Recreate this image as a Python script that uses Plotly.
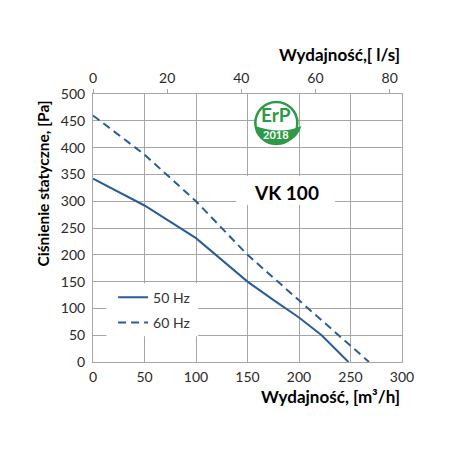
import plotly.graph_objects as go

# Data
flow_50 = [0, 50, 100, 150, 175, 200, 222, 248]
pres_50 = [342, 292, 231, 150, 116, 83, 50, 0]
flow_60 = [0, 50, 100, 150, 200, 250, 268]
pres_60 = [460, 387, 300, 200, 115, 30, 0]

x_ticks = [0, 50, 100, 150, 200, 250, 300]
y_ticks = [0, 50, 100, 150, 200, 250, 300, 350, 400, 450, 500]
ls_ticks = [0, 20, 40, 60, 80]

FONT = "Lato"
BLUE = "#2b5c9a"
GRID = "#a6a6a6"
GREEN = "#2e9a47"

fig = go.Figure()
fig.add_trace(go.Scatter(x=flow_50, y=pres_50, mode="lines", name="50 Hz",
                         line=dict(color=BLUE, width=2), legendgroup="a"))
fig.add_trace(go.Scatter(x=flow_60, y=pres_60, mode="lines", name="60 Hz",
                         line=dict(color=BLUE, width=2, dash="8px,5px"), legendgroup="b"))
# invisible trace to anchor the top (l/s) axis
fig.add_trace(go.Scatter(x=ls_ticks, y=[0] * len(ls_ticks), xaxis="x2", mode="markers",
                         marker=dict(opacity=0), showlegend=False, hoverinfo="skip"))

fig.update_layout(
    width=450, height=450,
    margin=dict(l=85, r=56, t=86, b=96),
    paper_bgcolor="white", plot_bgcolor="white",
    font=dict(family=FONT, size=13, color="#333333"),
    showlegend=True,
    legend=dict(x=0.065, y=0.30, xanchor="left", yanchor="top",
                bgcolor="rgba(0,0,0,0)", tracegroupgap=4,
                font=dict(family=FONT, size=14, color="#333333")),
    xaxis=dict(range=[0, 300], tickvals=x_ticks, showgrid=True, gridcolor=GRID,
               gridwidth=1, showline=True, linecolor=GRID, linewidth=1, mirror=True,
               zeroline=False, ticks="", ticklabelstandoff=2,
               tickfont=dict(family=FONT, size=14, color="#2a2a2a")),
    xaxis2=dict(range=[0, 300 / 3.6], tickvals=ls_ticks, overlaying="x", side="top",
                anchor="y", showgrid=False, zeroline=False, showline=False,
                ticks="outside", ticklen=4, tickcolor=GRID,
                tickfont=dict(family=FONT, size=14, color="#2a2a2a")),
    yaxis=dict(range=[0, 500], tickvals=y_ticks, showgrid=True, gridcolor=GRID,
               showline=True, linecolor=GRID, linewidth=1, mirror=True,
               zeroline=False, ticks="", ticklabelstandoff=4,
               tickfont=dict(family=FONT, size=14, color="#2a2a2a")),
)

# white boxes behind legend and model label
fig.add_shape(type="rect", xref="x", yref="y", x0=13, x1=102, y0=48, y1=147,
              fillcolor="white", line=dict(width=0), layer="between")
fig.add_shape(type="rect", xref="x", yref="y", x0=139, x1=235, y0=293, y1=347,
              fillcolor="white", line=dict(width=0), layer="between")

# ErP logo
fig.add_shape(type="circle", xref="x", yref="y", xsizemode="pixel", ysizemode="pixel",
              xanchor=178, yanchor=446, x0=-21, x1=21, y0=-21, y1=21,
              fillcolor="white", line=dict(color=GREEN, width=2.5), layer="above")
fig.add_shape(type="path", xref="x", yref="y", xsizemode="pixel", ysizemode="pixel",
              xanchor=178, yanchor=446,
              path="M -21,-3 C -8,-8 10,-10 25,-3 C 19,-27 -19,-27 -21,-3 Z",
              fillcolor=GREEN, line=dict(width=0), layer="above")
fig.add_annotation(x=178, y=446, xref="x", yref="y", text="<b>ErP</b>", showarrow=False,
                   yshift=8, font=dict(family=FONT, size=19, color=GREEN))
fig.add_annotation(x=178, y=446, xref="x", yref="y", text="<b>2018</b>", showarrow=False,
                   yshift=-12, font=dict(family=FONT, size=11, color="white"))

fig.add_annotation(x=187.5, y=317, xref="x", yref="y", text="<b>VK 100</b>", showarrow=False,
                   font=dict(family=FONT, size=19, color="black"))

# axis titles
fig.add_annotation(x=-0.165, y=0.666, xref="paper", yref="paper",
                   text="<b>Ciśnienie statyczne, [Pa]</b>", textangle=-90, showarrow=False,
                   xanchor="center", yanchor="middle",
                   font=dict(family=FONT, size=15.5, color="black"))
fig.add_annotation(x=1.0, y=-0.128, xref="paper", yref="paper",
                   text="<b>Wydajność, [m³/h]</b>", showarrow=False,
                   xanchor="right", yanchor="middle",
                   font=dict(family=FONT, size=17, color="black"))
fig.add_annotation(x=1.0, y=1.146, xref="paper", yref="paper",
                   text="<b>Wydajność,[ l/s]</b>", showarrow=False,
                   xanchor="right", yanchor="middle",
                   font=dict(family=FONT, size=17, color="black"))

fig.write_html("out.html")
